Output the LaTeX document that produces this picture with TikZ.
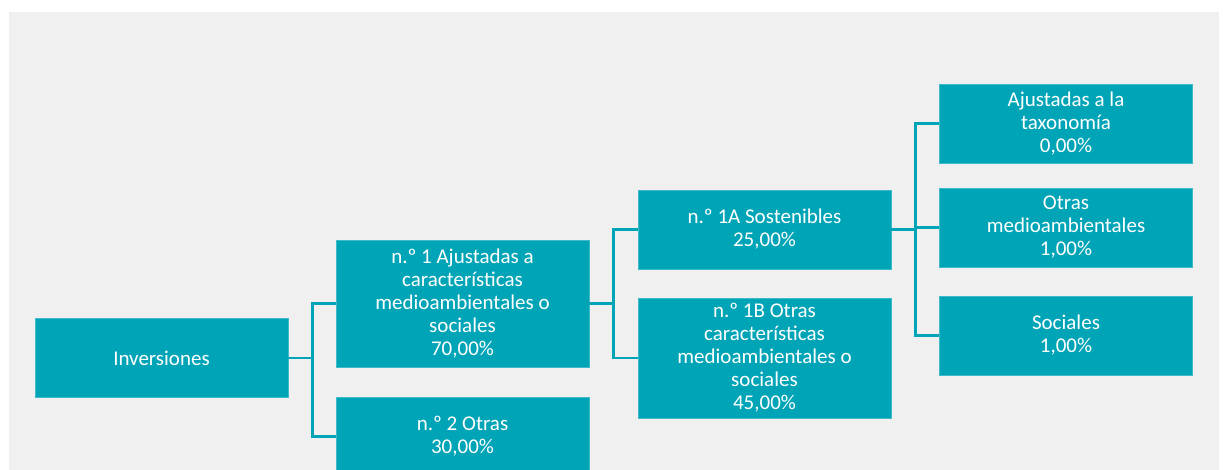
\documentclass[tikz,border=0pt]{standalone}
\usepackage{fontspec}
\setmainfont{Carlito}
\definecolor{teal}{HTML}{00A4B7}
\definecolor{tealedge}{HTML}{3DBBC9}
\definecolor{bggray}{HTML}{F0F0F0}
\begin{document}
\begin{tikzpicture}[x=1pt,y=-1pt,
  box/.style={fill=teal,draw=tealedge,line width=0.8pt,minimum width=253pt,minimum height=79pt,
    align=center,text=white,inner sep=0pt,font=\fontsize{21}{23}\selectfont},
  conn/.style={draw=teal,line width=2.2pt}]
\useasboundingbox (0,0) rectangle (1224,470);
\fill[white] (0,0) rectangle (1224,470);
\fill[bggray] (9,12) rectangle (1219,470);
\begin{scope}
\clip (0,0) rectangle (1224,470);
\node[box] (inv) at (161.5,358) {Inversiones};
\node[box,minimum height=127pt] (b1) at (462.5,303.5) {n.º 1 Ajustadas a\\características\\medioambientales o\\sociales\\70,00\%};
\node[box] (b2) at (462.5,436.5) {n.º 2 Otras\\30,00\%};
\node[box] (b1a) at (764.5,229.5) {n.º 1A Sostenibles\\25,00\%};
\node[box,minimum height=120pt] (b1b) at (764.5,358) {n.º 1B Otras\\características\\medioambientales o\\sociales\\45,00\%};
\node[box] (ta) at (1066,123.5) {Ajustadas a la\\taxonomía\\0,00\%};
\node[box] (tb) at (1066,227.5) {Otras\\medioambientales\\1,00\%};
\node[box] (tc) at (1066,335.5) {Sociales\\1,00\%};
\draw[conn] (inv.east) -- ++(24,0) |- (b1.west);
\draw[conn] (inv.east) -- ++(24,0) |- (b2.west);
\draw[conn] (b1.east) -- ++(24,0) |- (b1a.west);
\draw[conn] (b1.east) -- ++(24,0) |- (b1b.west);
\draw[conn] (b1a.east) -- ++(24,0) |- (ta.west);
\draw[conn] (b1a.east) -- ++(24,0) |- (tb.west);
\draw[conn] (b1a.east) -- ++(24,0) |- (tc.west);
\end{scope}
\end{tikzpicture}
\end{document}
